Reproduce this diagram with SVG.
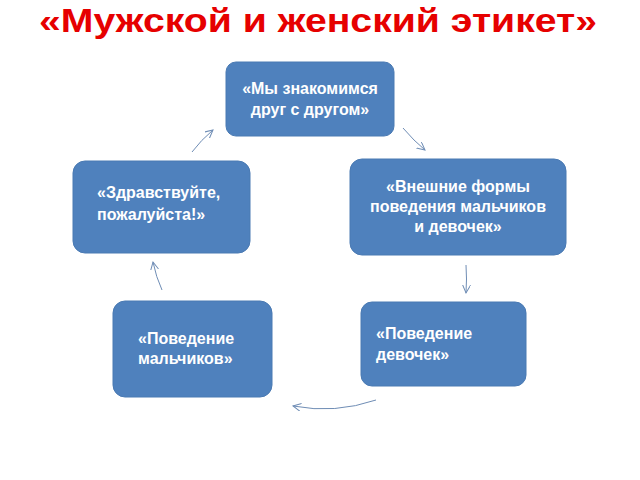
<svg xmlns="http://www.w3.org/2000/svg" width="640" height="480" viewBox="0 0 640 480">
<defs>
<style>
.b{fill:#4f81bd;stroke:#4a7ab3;stroke-width:1}
.t{font-family:"Liberation Sans",Arial,sans-serif;font-weight:bold;font-size:16px;fill:#fff}
.c{fill:none;stroke:#6f8db5;stroke-width:1;marker-end:url(#a)}
</style>
<marker id="a" markerWidth="10" markerHeight="10" refX="8" refY="4" orient="auto" markerUnits="userSpaceOnUse">
<path d="M0,0 L8,4 L0,8" fill="none" stroke="#6f8db5" stroke-width="1"/>
</marker>
</defs>
<rect width="640" height="480" fill="#fff"/>
<text x="318" y="32" text-anchor="middle" font-family="'Liberation Sans',Arial,sans-serif" font-weight="bold" font-size="34" fill="#e60000" textLength="558" lengthAdjust="spacingAndGlyphs">«Мужской и женский этикет»</text>
<g id="n1"><rect class="b" x="226" y="62" width="168" height="74" rx="10"/>
<text class="t" x="310" y="94" text-anchor="middle">«Мы знакомимся</text>
<text class="t" x="310" y="115" text-anchor="middle">друг с другом»</text></g>
<g id="n2"><rect class="b" x="350" y="159" width="216" height="96" rx="12"/>
<text class="t" x="458" y="192" text-anchor="middle">«Внешние формы</text>
<text class="t" x="458" y="212" text-anchor="middle">поведения мальчиков</text>
<text class="t" x="458" y="232" text-anchor="middle">и девочек»</text></g>
<g id="n3"><rect class="b" x="361" y="302" width="165" height="84" rx="11"/>
<text class="t" x="376" y="339">«Поведение</text>
<text class="t" x="376" y="360">девочек»</text></g>
<g id="n4"><rect class="b" x="113" y="301" width="159" height="96" rx="12"/>
<text class="t" x="138" y="344">«Поведение</text>
<text class="t" x="138" y="364">мальчиков»</text></g>
<g id="n5"><rect class="b" x="73" y="161" width="177" height="92" rx="12"/>
<text class="t" x="97" y="198">«Здравствуйте,</text>
<text class="t" x="97" y="220">пожалуйста!»</text></g>
<g id="connectors">
<path class="c" d="M403,128 Q414,141 425,150"/>
<path class="c" d="M466,265 Q467,279 466,293"/>
<path class="c" d="M376,400 Q335,414 293,406"/>
<path class="c" d="M162,290 Q156,277 153,262"/>
<path class="c" d="M192,152 Q201,140 213,130"/>
</g>
</svg>
